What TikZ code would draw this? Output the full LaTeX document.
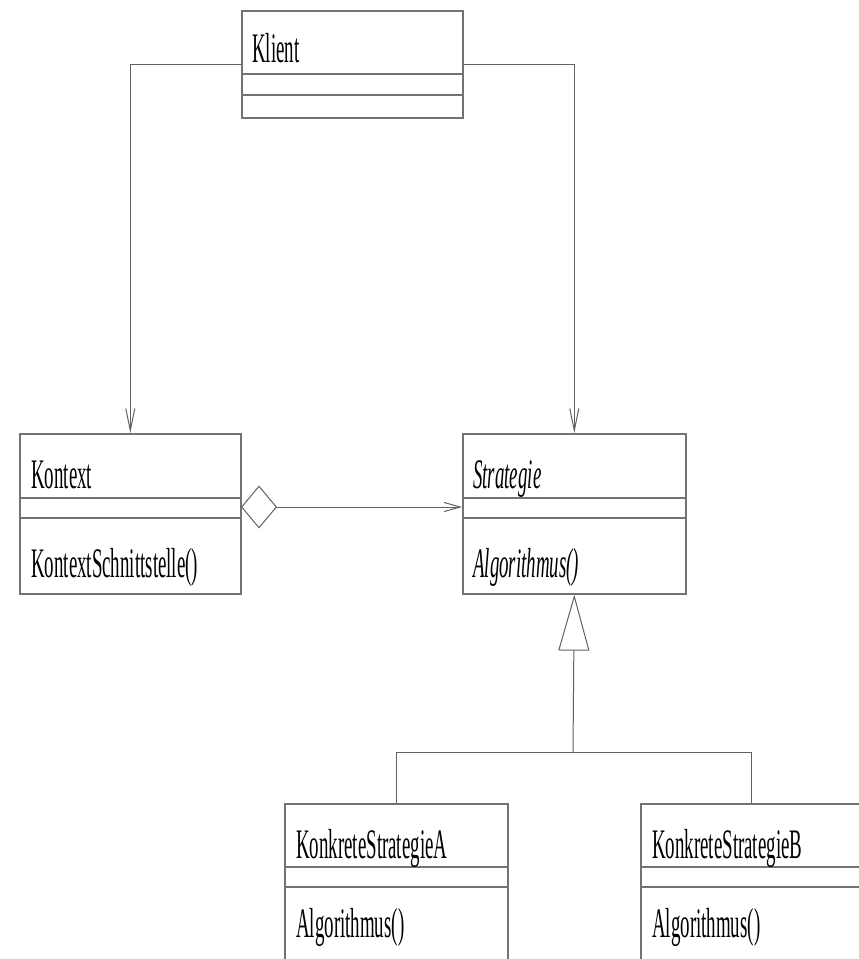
\documentclass[tikz,border=0pt]{standalone}
\usepackage{fontspec}
\setmainfont{Liberation Serif}
\usepackage{graphicx}
\usetikzlibrary{arrows.meta}
\definecolor{linegray}{gray}{0.45}
\definecolor{conngray}{gray}{0.38}
\newcommand\squash[1]{\scalebox{0.45}[1]{#1}}
\begin{document}
\begin{tikzpicture}[x=1pt,y=-1pt,
  umlbox/.style={draw=linegray,line width=1.6pt,fill=white,anchor=north west,inner sep=0pt},
  sep/.style={draw=linegray,line width=1.6pt},
  conn/.style={draw=conngray,line width=1pt},
  lbl/.style={anchor=base west,inner sep=0pt,font=\fontsize{42}{42}\selectfont},
  openarrow/.style={-{Straight Barb[length=22pt,width=9pt]}}]
\clip (0,0) rectangle (859,959);
\fill[white] (0,0) rectangle (859,959);
% boxes
\node[umlbox,minimum width=221pt,minimum height=107pt] (klient) at (241,10) {};
\draw[sep] (241,74) -- (462,74);
\draw[sep] (241,95) -- (462,95);
\node[umlbox,minimum width=221pt,minimum height=160pt] (kontext) at (19,433) {};
\draw[sep] (19,498) -- (240,498);
\draw[sep] (19,518) -- (240,518);
\node[umlbox,minimum width=223pt,minimum height=160pt] (strategie) at (462,433) {};
\draw[sep] (462,498) -- (685,498);
\draw[sep] (462,518) -- (685,518);
\node[umlbox,minimum width=223pt,minimum height=200pt] (ksa) at (284,803) {};
\draw[sep] (284,867) -- (507,867);
\draw[sep] (284,887) -- (507,887);
\node[umlbox,minimum width=222pt,minimum height=200pt] (ksb) at (640,803) {};
\draw[sep] (640,867) -- (862,867);
\draw[sep] (640,887) -- (862,887);
% texts
\node[lbl] (tklient) at (252,62) {\squash{Klient}};
\node[lbl] (tkontext) at (31,488) {\squash{Kontext}};
\node[lbl] (tkops) at (31,577) {\squash{KontextSchnittstelle()}};
\node[lbl] (tstrat) at (473,488) {\squash{\itshape Strategie}};
\node[lbl] (tsops) at (473,577) {\squash{\itshape Algorithmus()}};
\node[lbl] (tksa) at (296,858) {\squash{KonkreteStrategieA}};
\node[lbl] (tksaops) at (296,937) {\squash{Algorithmus()}};
\node[lbl] (tksb) at (652,858) {\squash{KonkreteStrategieB}};
\node[lbl] (tksbops) at (652,937) {\squash{Algorithmus()}};
% connectors
\draw[conn,openarrow] (klient.west) -| (kontext.north);
\draw[conn,openarrow] (klient.east) -| (strategie.north);
\coordinate (aggL) at (241,507);
\draw[conn,{Diamond[open,length=36pt,width=43pt,fill=white]}-{Straight Barb[length=16pt,width=9pt]}] (aggL) -- (aggL -| strategie.west);
\coordinate (junc) at (573,752);
\draw[conn,-{Triangle[open,length=56pt,width=31pt,fill=white]}] (junc) -- (strategie.south);
\draw[conn] (ksa.north) |- (junc) -| (ksb.north);
\end{tikzpicture}
\end{document}
